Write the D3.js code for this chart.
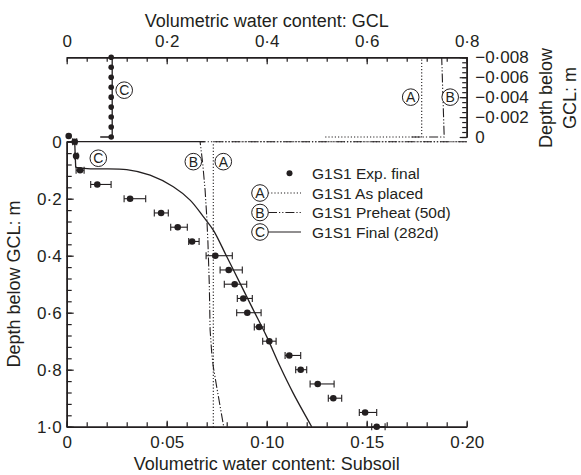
<!DOCTYPE html>
<html><head><meta charset="utf-8">
<script src="https://cdn.jsdelivr.net/npm/d3@7"></script>
<style>
body{margin:0;background:#fff}
svg{display:block}
text{font-family:"Liberation Sans",Arial,sans-serif;fill:#231f20}
</style>
</head><body>
<svg id="c" width="581" height="475"></svg>
<script>
// ---------- data ----------
const topTicks = [0, 0.2, 0.4, 0.6, 0.8];
const rightTicks = [-0.008, -0.006, -0.004, -0.002, 0];
const bottomTicks = [0, 0.05, 0.10, 0.15, 0.20];
const leftTicks = [0, 0.2, 0.4, 0.6, 0.8, 1.0];

// experimental subsoil profile (G1S1 Exp. final)
const expDepth = [-0.02, 0, 0.05, 0.10, 0.15, 0.20, 0.25, 0.30, 0.35, 0.40, 0.45, 0.50, 0.55, 0.60, 0.65, 0.70, 0.75, 0.80, 0.85, 0.90, 0.95, 1.00];
const expTheta = [0.001, 0.004, 0.0047, 0.0067, 0.0153, 0.0317, 0.0472, 0.0555, 0.0627, 0.0743, 0.081, 0.084, 0.0883, 0.0903, 0.0962, 0.1013, 0.1113, 0.117, 0.1255, 0.1333, 0.1492, 0.155];
const expLo = [0.001, 0.003, 0.004, 0.0047, 0.012, 0.0287, 0.0438, 0.052, 0.061, 0.0697, 0.0767, 0.0788, 0.0853, 0.085, 0.0938, 0.098, 0.1092, 0.1145, 0.1217, 0.1308, 0.1463, 0.1525];
const expHi = [0.001, 0.005, 0.0055, 0.0087, 0.0222, 0.0395, 0.0508, 0.0603, 0.0662, 0.0828, 0.0878, 0.09, 0.0928, 0.0972, 0.0988, 0.1047, 0.117, 0.12, 0.1337, 0.1375, 0.155, 0.1592];

// experimental GCL profile
const gclExpDepth = [-0.008, -0.007, -0.006, -0.005, -0.004, -0.003, -0.002, -0.001, 0];
const gclExpTheta = [0.089, 0.089, 0.089, 0.089, 0.089, 0.089, 0.089, 0.089, 0.089];

// model A (as placed)
const aGclTheta = [0.517, 0.71, 0.71];
const aGclDepth = [0, 0, -0.008];
const aSubTheta = [0.2, 0.0733, 0.0733];
const aSubDepth = [0, 0, 1.0];

// model B (preheat 50d)
const bGclTheta = [0.69, 0.755, 0.75];
const bGclDepth = [0, 0, -0.008];
const bSubTheta = [0.2, 0.0667, 0.068, 0.0692, 0.0700, 0.0706, 0.0713, 0.0717, 0.0725, 0.0733, 0.075, 0.0785];
const bSubDepth = [0, 0, 0.076, 0.17, 0.26, 0.35, 0.5, 0.66, 0.74, 0.79, 0.86, 1.0];

// model C (final 282d)
const cGclTheta = [0.067, 0.091, 0.091];
const cGclDepth = [0, 0, -0.008];
const cTopTheta = [0, 0.069];
const cTopDepth = [0, 0];
const cSubTheta = [0.004, 0.0045, 0.012, 0.03, 0.0417, 0.0533, 0.0617, 0.0683, 0.0733, 0.080, 0.0867, 0.0933, 0.100, 0.1067, 0.1133, 0.1225];
const cSubDepth = [0, 0.09, 0.095, 0.098, 0.117, 0.158, 0.205, 0.263, 0.31, 0.403, 0.497, 0.59, 0.684, 0.789, 0.883, 1.0];

const legendKeys = ["", "A", "B", "C"];
const legendLabels = ["G1S1 Exp. final", "G1S1 As placed", "G1S1 Preheat (50d)", "G1S1 Final (282d)"];
const legendDash = [null, "1.2,2", "9,2,1.2,2,1.2,2", null];

// ---------- scales ----------
const INK = "#231f20";
const xs = d3.scaleLinear().domain([0, 0.2]).range([66.7, 466.7]);
const ys = d3.scaleLinear().domain([0, 1]).range([141.7, 426.7]);
const xg = d3.scaleLinear().domain([0, 0.8]).range([66.7, 466.7]);
const yg = d3.scaleLinear().domain([-0.008, 0]).range([57.3, 137]);

const svg = d3.select("#c");
const dotFmt = f => d => d === 0 ? "0" : d3.format(f)(d).replace(".", "\u00B7");

function styleAxis(g, fs) {
  g.select(".domain").attr("stroke", INK).attr("stroke-width", 1.5);
  g.selectAll(".tick line").attr("stroke", INK).attr("stroke-width", 1.2);
  g.selectAll(".tick text").attr("fill", INK).style("font-size", fs + "px")
    .style("font-family", '"Liberation Sans",Arial,sans-serif');
}

// top axis (GCL)
const gTop = svg.append("g").attr("transform", "translate(0,57.3)");
gTop.append("g").call(d3.axisTop(xg).tickValues(d3.range(0, 0.8001, 0.04)).tickSizeInner(-4.5).tickSizeOuter(0).tickFormat(""))
  .call(g => styleAxis(g, 17));
gTop.append("g").call(d3.axisTop(xg).tickValues(topTicks).tickSizeInner(-7).tickSizeOuter(0).tickPadding(10).tickFormat(dotFmt(".1f")))
  .call(g => styleAxis(g, 17));

// right axis (GCL depth)
const gRight = svg.append("g").attr("transform", "translate(466.7,0)");
gRight.append("g").call(d3.axisRight(yg).tickValues(d3.range(-0.008, 0.00001, 0.0005)).tickSizeInner(-4.5).tickSizeOuter(0).tickFormat(""))
  .call(g => styleAxis(g, 17));
gRight.append("g").call(d3.axisRight(yg).tickValues(rightTicks).tickSizeInner(-7).tickSizeOuter(0).tickPadding(8.5).tickFormat(dotFmt(".3f")))
  .call(g => styleAxis(g, 17));

// bottom axis (subsoil)
const gBot = svg.append("g").attr("transform", "translate(0,426.7)");
gBot.append("g").call(d3.axisBottom(xs).tickValues(d3.range(0, 0.2001, 0.01)).tickSizeInner(-4.5).tickSizeOuter(0).tickFormat(""))
  .call(g => styleAxis(g, 17));
gBot.append("g").call(d3.axisBottom(xs).tickValues(bottomTicks).tickSizeInner(-6).tickSizeOuter(0).tickPadding(9.5).tickFormat(dotFmt(".2f")))
  .call(g => styleAxis(g, 17));

// left axis (depth)
const gLeft = svg.append("g").attr("transform", "translate(66.7,0)");
gLeft.append("g").call(d3.axisLeft(ys).tickValues(d3.range(0, 1.0001, 0.04)).tickSizeInner(-5).tickSizeOuter(0).tickFormat(""))
  .call(g => styleAxis(g, 17));
gLeft.append("g").call(d3.axisLeft(ys).tickValues(leftTicks).tickSizeInner(-7).tickSizeOuter(0).tickPadding(5).tickFormat(dotFmt(".1f")))
  .call(g => styleAxis(g, 17));

// titles
svg.append("text").attr("x", 266.7).attr("y", 26.7).attr("text-anchor", "middle").style("font-size", "18px")
  .text("Volumetric water content: GCL");
svg.append("text").attr("x", 266.7).attr("y", 469.5).attr("text-anchor", "middle").style("font-size", "18px")
  .text("Volumetric water content: Subsoil");
svg.append("text").attr("transform", "translate(20,284) rotate(-90)").attr("text-anchor", "middle").style("font-size", "18px")
  .text("Depth below GCL: m");
svg.append("text").attr("transform", "translate(552,98) rotate(-90)").attr("text-anchor", "middle").style("font-size", "18px")
  .text("Depth below");
svg.append("text").attr("transform", "translate(575.5,98) rotate(-90)").attr("text-anchor", "middle").style("font-size", "18px")
  .text("GCL: m");

// ---------- lines ----------
const lineS = d3.line().x(d => xs(d[0])).y(d => ys(d[1]));
const lineG = d3.line().x(d => xg(d[0])).y(d => yg(d[1]));
const zip = (a, b) => a.map((v, i) => [v, b[i]]);

function drawPath(gen, data, dash, w) {
  svg.append("path").attr("d", gen(data)).attr("fill", "none").attr("stroke", INK)
    .attr("stroke-width", w || 1.1).attr("stroke-dasharray", dash);
}
// A dotted
drawPath(lineG, zip(aGclTheta, aGclDepth), legendDash[1]);
drawPath(lineS, zip(aSubTheta, aSubDepth), legendDash[1]);
// B dash-dot
drawPath(lineG, zip(bGclTheta, bGclDepth), legendDash[2]);
drawPath(lineS, zip(bSubTheta, bSubDepth), legendDash[2]);
// C solid
drawPath(lineG, zip(cGclTheta, cGclDepth), null, 1.3);
drawPath(lineS, zip(cTopTheta, cTopDepth), null, 1.3);
const cPts = zip(cSubTheta, cSubDepth);
drawPath(lineS, cPts.slice(0, 2), null, 1.3);
drawPath(lineS.curve(d3.curveCatmullRom.alpha(0.5)), cPts.slice(1), null, 1.3);
lineS.curve(d3.curveLinear);

// ---------- experimental points ----------
const exp = expDepth.map((d, i) => ({d, t: expTheta[i], lo: expLo[i], hi: expHi[i]}));
const eb = svg.append("g").attr("stroke", INK).attr("stroke-width", 1.1);
exp.filter(p => p.hi - p.lo > 0.0005).forEach(p => {
  const y = ys(p.d);
  eb.append("line").attr("x1", xs(p.lo)).attr("x2", xs(p.hi)).attr("y1", y).attr("y2", y);
  eb.append("line").attr("x1", xs(p.lo)).attr("x2", xs(p.lo)).attr("y1", y - 3.5).attr("y2", y + 3.5);
  eb.append("line").attr("x1", xs(p.hi)).attr("x2", xs(p.hi)).attr("y1", y - 3.5).attr("y2", y + 3.5);
});
svg.append("g").selectAll("circle").data(exp).join("circle")
  .attr("cx", p => xs(p.t)).attr("cy", p => ys(p.d)).attr("r", 3.3).attr("fill", INK);
svg.append("g").selectAll("circle").data(zip(gclExpTheta, gclExpDepth)).join("circle")
  .attr("cx", p => xg(p[0])).attr("cy", p => yg(p[1])).attr("r", 2.8).attr("fill", INK);

// ---------- circled labels ----------
function circled(x, y, letter) {
  svg.append("circle").attr("cx", x).attr("cy", y).attr("r", 8.3).attr("fill", "#fff").attr("stroke", INK).attr("stroke-width", 1);
  svg.append("text").attr("x", x).attr("y", y).attr("dy", "0.36em").attr("text-anchor", "middle").style("font-size", "14px").text(letter);
}
circled(xg(0.688), yg(-0.004), "A");
circled(xg(0.767), yg(-0.004), "B");
circled(xg(0.115), yg(-0.0047), "C");
circled(xs(0.0158), ys(0.058), "C");
circled(xs(0.0633), ys(0.07), "B");
circled(xs(0.0783), ys(0.07), "A");

// ---------- legend ----------
const rowY = [173.3, 193, 212.5, 232];
legendLabels.forEach((lab, i) => {
  const y = rowY[i];
  if (i === 0) {
    svg.append("circle").attr("cx", 289.5).attr("cy", y).attr("r", 3).attr("fill", INK);
  } else {
    svg.append("line").attr("x1", 268).attr("x2", 301).attr("y1", y).attr("y2", y)
      .attr("stroke", INK).attr("stroke-width", 1.1).attr("stroke-dasharray", legendDash[i]);
    circled(260, y, legendKeys[i]);
  }
  svg.append("text").attr("x", 312).attr("y", y).attr("dy", "0.36em").style("font-size", "15.5px").text(lab);
});
</script>
</body></html>
